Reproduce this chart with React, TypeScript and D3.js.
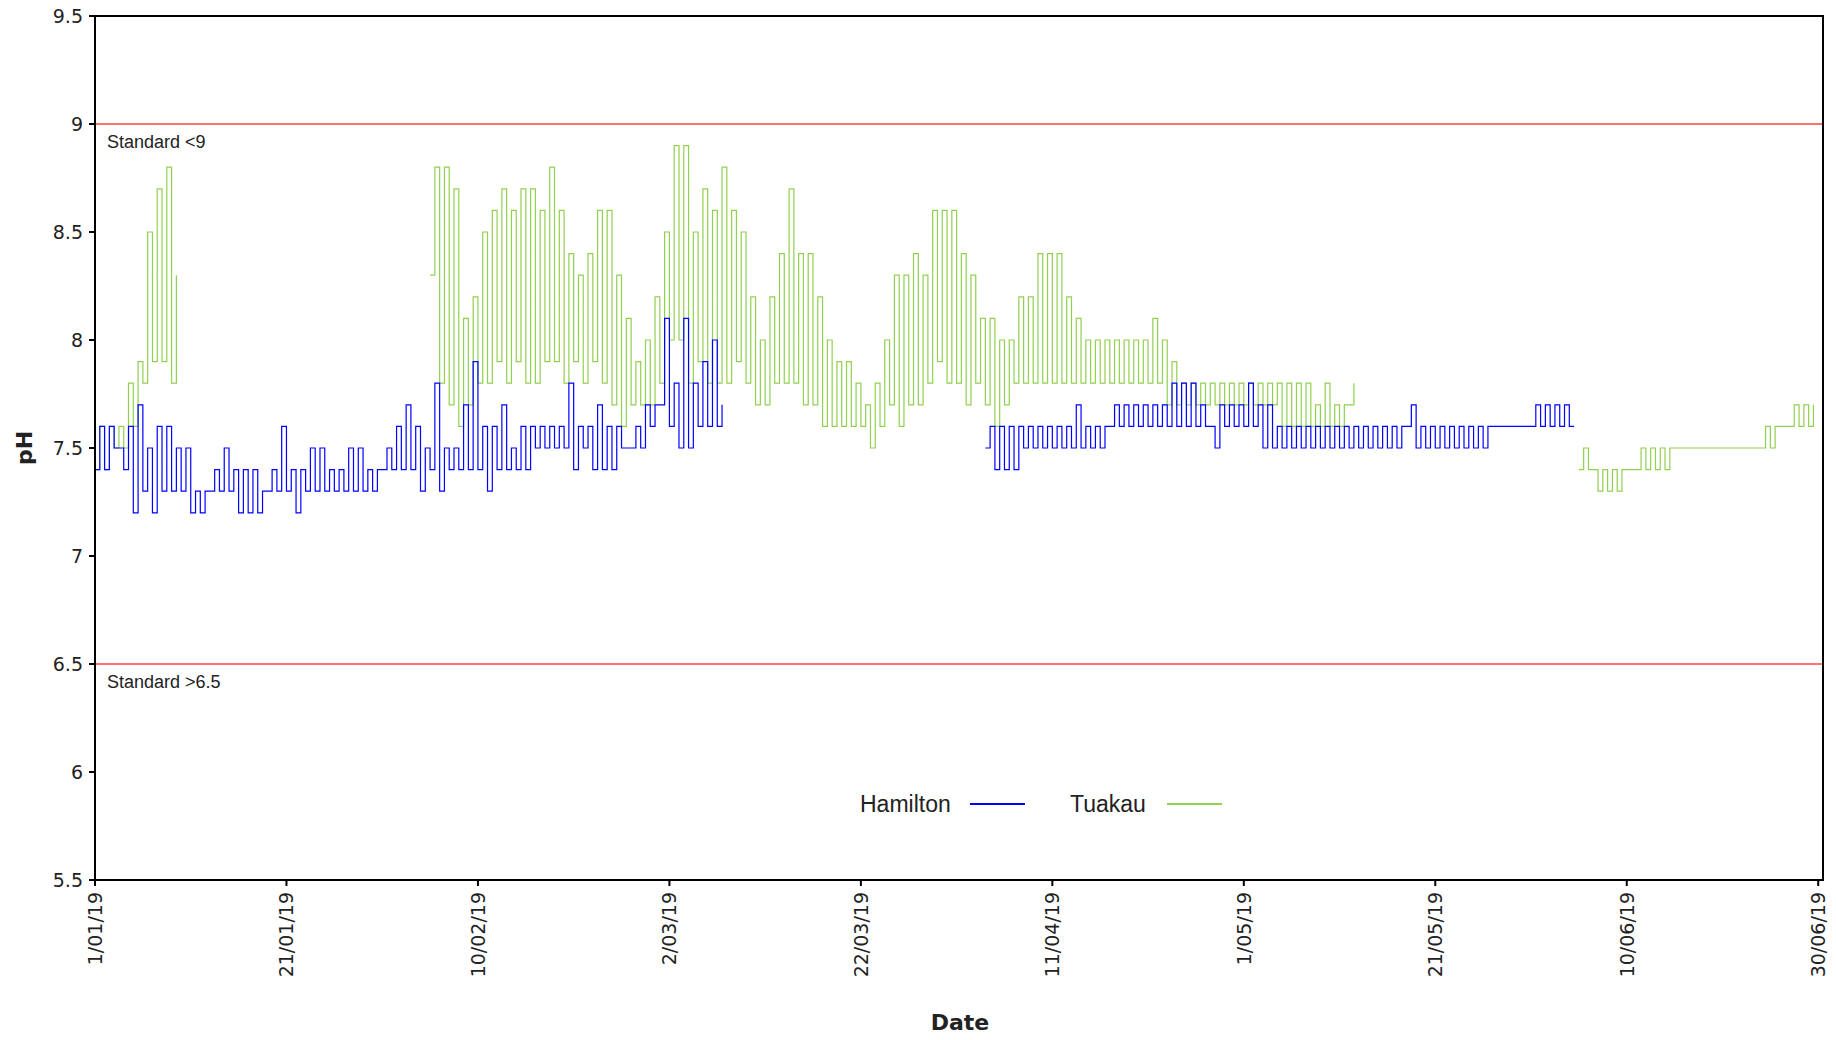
import React from "react";
import * as d3 from "d3";

// daily [min, max] pH, index = day from 1 Jan 2019; null = no data
const hamilton: ([number, number] | null)[] = [
  [7.4,7.6],[7.4,7.6],[7.5,7.5],[7.4,7.6],[7.2,7.7],[7.3,7.5],[7.2,7.6],[7.3,7.6],[7.3,7.5],[7.3,7.5],
  [7.2,7.3],[7.2,7.3],[7.3,7.4],[7.3,7.5],[7.3,7.4],[7.2,7.4],[7.2,7.4],[7.2,7.3],[7.3,7.4],[7.3,7.6],
  [7.3,7.4],[7.2,7.4],[7.3,7.5],[7.3,7.5],[7.3,7.4],[7.3,7.4],[7.3,7.5],[7.3,7.5],[7.3,7.4],[7.3,7.4],
  [7.4,7.5],[7.4,7.6],[7.4,7.7],[7.4,7.6],[7.3,7.5],[7.4,7.8],[7.3,7.5],[7.4,7.5],[7.4,7.7],[7.4,7.9],
  [7.4,7.6],[7.3,7.6],[7.4,7.7],[7.4,7.5],[7.4,7.6],[7.4,7.6],[7.5,7.6],[7.5,7.6],[7.5,7.6],[7.5,7.8],
  [7.4,7.6],[7.5,7.6],[7.4,7.7],[7.4,7.6],[7.4,7.6],[7.5,7.5],[7.5,7.6],[7.5,7.7],[7.6,7.7],[7.7,8.1],
  [7.6,7.8],[7.5,8.1],[7.5,7.8],[7.6,7.9],[7.6,8.0],[7.6,7.7],
  null,null,null,null,null,null,null,null,null,null,null,null,null,null,null,null,null,null,null,null,null,null,null,null,null,null,null,
  [7.5,7.6],[7.4,7.6],[7.4,7.6],[7.4,7.6],[7.5,7.6],[7.5,7.6],[7.5,7.6],[7.5,7.6],[7.5,7.6],[7.5,7.7],
  [7.5,7.6],[7.5,7.6],[7.5,7.6],[7.6,7.7],[7.6,7.7],[7.6,7.7],[7.6,7.7],[7.6,7.7],[7.6,7.7],[7.6,7.8],
  [7.6,7.8],[7.6,7.8],[7.6,7.7],[7.6,7.6],[7.5,7.7],[7.6,7.7],[7.6,7.7],[7.6,7.8],[7.6,7.7],[7.5,7.7],
  [7.5,7.6],[7.5,7.6],[7.5,7.6],[7.5,7.6],[7.5,7.6],[7.5,7.6],[7.5,7.6],[7.5,7.6],[7.5,7.6],[7.5,7.6],
  [7.5,7.6],[7.5,7.6],[7.5,7.6],[7.5,7.6],[7.6,7.7],[7.5,7.6],[7.5,7.6],[7.5,7.6],[7.5,7.6],[7.5,7.6],
  [7.5,7.6],[7.5,7.6],[7.5,7.6],[7.6,7.6],[7.6,7.6],[7.6,7.6],[7.6,7.6],[7.6,7.7],[7.6,7.7],[7.6,7.7],
  [7.6,7.7],[7.6,7.6],
];

const tuakau: ([number, number] | null)[] = [
  [7.4,7.6],[7.4,7.6],[7.5,7.6],[7.5,7.8],[7.6,7.9],[7.8,8.5],[7.9,8.7],[7.9,8.8],[7.8,8.3],
  null,null,null,null,null,null,null,null,null,null,null,null,null,null,null,null,null,null,null,null,null,null,null,null,null,null,
  [8.3,8.8],[7.8,8.8],[7.7,8.7],[7.6,8.1],[7.7,8.2],[7.8,8.5],[7.8,8.6],[7.9,8.7],[7.8,8.6],[7.9,8.7],
  [7.8,8.7],[7.8,8.6],[7.9,8.8],[7.9,8.6],[7.8,8.4],[7.9,8.3],[7.8,8.4],[7.9,8.6],[7.8,8.6],[7.7,8.3],
  [7.6,8.1],[7.7,7.9],[7.7,8.0],[7.7,8.2],[7.8,8.5],[8.0,8.9],[8.0,8.9],[7.8,8.5],[7.9,8.7],[7.8,8.6],
  [7.8,8.8],[7.8,8.6],[7.9,8.5],[7.8,8.2],[7.7,8.0],[7.7,8.2],[7.8,8.4],[7.8,8.7],[7.8,8.4],[7.7,8.4],
  [7.7,8.2],[7.6,8.0],[7.6,7.9],[7.6,7.9],[7.6,7.8],[7.6,7.7],[7.5,7.8],[7.6,8.0],[7.7,8.3],[7.6,8.3],
  [7.7,8.4],[7.7,8.3],[7.8,8.6],[7.9,8.6],[7.8,8.6],[7.8,8.4],[7.7,8.3],[7.8,8.1],[7.7,8.1],[7.6,8.0],
  [7.7,8.0],[7.8,8.2],[7.8,8.2],[7.8,8.4],[7.8,8.4],[7.8,8.4],[7.8,8.2],[7.8,8.1],[7.8,8.0],[7.8,8.0],
  [7.8,8.0],[7.8,8.0],[7.8,8.0],[7.8,8.0],[7.8,8.0],[7.8,8.1],[7.8,8.0],[7.7,7.9],[7.7,7.8],[7.7,7.8],
  [7.7,7.8],[7.7,7.8],[7.7,7.8],[7.7,7.8],[7.7,7.8],[7.7,7.8],[7.7,7.8],[7.7,7.8],[7.7,7.8],[7.6,7.8],
  [7.6,7.8],[7.6,7.8],[7.6,7.7],[7.6,7.8],[7.6,7.7],[7.6,7.7],[7.7,7.8],
  null,null,null,null,null,null,null,null,null,null,null,null,null,null,null,null,null,null,null,null,null,null,null,
  [7.4,7.5],[7.4,7.4],[7.3,7.4],[7.3,7.4],[7.3,7.4],[7.4,7.4],[7.4,7.5],[7.4,7.5],[7.4,7.5],[7.4,7.5],
  [7.5,7.5],[7.5,7.5],[7.5,7.5],[7.5,7.5],[7.5,7.5],[7.5,7.5],[7.5,7.5],[7.5,7.5],[7.5,7.5],[7.5,7.6],
  [7.5,7.6],[7.6,7.6],[7.6,7.7],[7.6,7.7],[7.6,7.7],
];

const yTicks = [5.5, 6, 6.5, 7, 7.5, 8, 8.5, 9, 9.5];
const standards = [
  { v: 9, label: "Standard <9" },
  { v: 6.5, label: "Standard >6.5" },
];

const W = 1836, H = 1040;
const L = 95, R = 1823, T = 16, B = 880;
const day0 = new Date(2019, 0, 1);
const dayMs = 86400000;

function toPoints(arr: ([number, number] | null)[]) {
  const pts: { t: Date; v: number | null }[] = [];
  arr.forEach((d, i) => {
    const base = day0.getTime() + i * dayMs;
    if (d) {
      pts.push({ t: new Date(base), v: d[0] });
      pts.push({ t: new Date(base + dayMs / 2), v: d[1] });
    } else {
      pts.push({ t: new Date(base), v: null });
    }
  });
  return pts;
}

export default function App() {
  const x = d3.scaleTime().domain([day0, new Date(day0.getTime() + 180.5 * dayMs)]).range([L, R]);
  const y = d3.scaleLinear().domain([5.5, 9.5]).range([B, T]);
  const line = d3
    .line<{ t: Date; v: number | null }>()
    .defined((p) => p.v !== null)
    .x((p) => x(p.t))
    .y((p) => y(p.v as number))
    .curve(d3.curveStepAfter);
  const xTicks = d3.range(0, 181, 20).map((d) => new Date(day0.getTime() + d * dayMs));
  const fmt = d3.timeFormat("%-d/%m/%y");
  const font = "Verdana, 'DejaVu Sans', sans-serif";
  return (
    <svg width={W} height={H} style={{ display: "block", position: "absolute", left: 0, top: 0, background: "#fff" }} fontFamily={font}>
      {standards.map((s) => (
        <g key={s.v}>
          <line x1={L} x2={R} y1={y(s.v)} y2={y(s.v)} stroke="#ff4040" strokeWidth={1.3} />
          <text x={L + 12} y={y(s.v) + 24} fontSize={18} fill="#222" fontFamily="Arial, 'Liberation Sans', sans-serif">{s.label}</text>
        </g>
      ))}
      <path d={line(toPoints(tuakau)) || ""} fill="none" stroke="#92d050" strokeWidth={1.2} />
      <path d={line(toPoints(hamilton)) || ""} fill="none" stroke="#0000ff" strokeWidth={1.2} />
      <rect x={L} y={T} width={R - L} height={B - T} fill="none" stroke="#000" strokeWidth={2} />
      {yTicks.map((v) => (
        <g key={v}>
          <line x1={L - 6} x2={L} y1={y(v)} y2={y(v)} stroke="#000" strokeWidth={2} />
          <text x={L - 12} y={y(v)} dy="0.35em" textAnchor="end" fontSize={19} fill="#222">{v}</text>
        </g>
      ))}
      {xTicks.map((t, i) => (
        <g key={i}>
          <line x1={x(t)} x2={x(t)} y1={B} y2={B + 6} stroke="#000" strokeWidth={2} />
          <text transform={`translate(${x(t) + 7},${B + 12}) rotate(-90)`} textAnchor="end" fontSize={19} fill="#222">{fmt(t)}</text>
        </g>
      ))}
      <text transform={`translate(32,${(T + B) / 2}) rotate(-90)`} textAnchor="middle" fontSize={22} fontWeight="bold" fill="#222">pH</text>
      <text x={960} y={1030} textAnchor="middle" fontSize={22} fontWeight="bold" fill="#222">Date</text>
      <g fontFamily="Arial, 'Liberation Sans', sans-serif" fontSize={23} fill="#222">
        <text x={860} y={812}>Hamilton</text>
        <line x1={970} x2={1025} y1={804} y2={804} stroke="#0000ff" strokeWidth={2} />
        <text x={1070} y={812}>Tuakau</text>
        <line x1={1167} x2={1222} y1={804} y2={804} stroke="#92d050" strokeWidth={2} />
      </g>
    </svg>
  );
}
